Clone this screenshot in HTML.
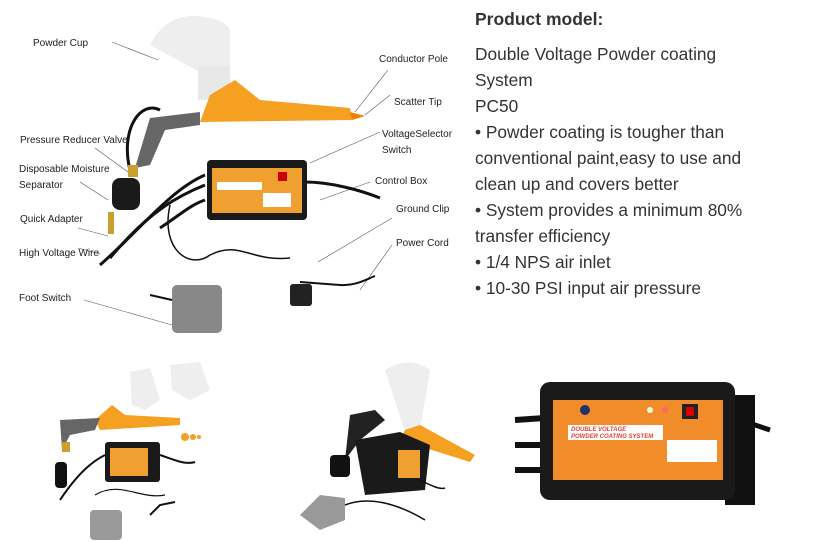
<!DOCTYPE html>
<html><head><meta charset="utf-8"><style>
body{margin:0;width:838px;height:542px;background:#fff;position:relative;overflow:hidden;font-family:"Liberation Sans",sans-serif}
.t{position:absolute;left:475px;color:#333;font-size:17.3px;line-height:26px;white-space:nowrap}
.l{position:absolute;font-size:10px;color:#222;white-space:nowrap}
svg{position:absolute;left:0;top:0}
</style></head><body>
<svg width="838" height="542">
<g stroke="#555" stroke-width="0.6" fill="none">
<line x1="112" y1="42" x2="158" y2="60"/>
<line x1="388" y1="70" x2="355" y2="112"/>
<line x1="390" y1="95" x2="365" y2="115"/>
<line x1="380" y1="132" x2="310" y2="163"/>
<line x1="370" y1="182" x2="320" y2="200"/>
<line x1="392" y1="218" x2="318" y2="262"/>
<line x1="392" y1="245" x2="360" y2="290"/>
<line x1="95" y1="148" x2="128" y2="172"/>
<line x1="80" y1="182" x2="108" y2="200"/>
<line x1="78" y1="228" x2="108" y2="236"/>
<line x1="78" y1="248" x2="100" y2="254"/>
<line x1="84" y1="300" x2="172" y2="325"/>
</g>
<g stroke="#111" stroke-width="3" fill="none">
<path d="M100 265 C140 230 170 190 205 175"/>
<path d="M110 258 C150 210 180 195 205 185"/>
<path d="M160 228 C180 215 190 205 205 200"/>
<path d="M305 182 C330 182 360 190 380 198"/>
<path d="M160 110 C140 100 120 130 130 170"/>
</g>
<path d="M170 205 C160 250 190 270 210 255 C240 240 250 262 290 258" stroke="#111" stroke-width="1.5" fill="none"/>
<path d="M300 282 L340 285 C355 286 365 280 375 276" stroke="#111" stroke-width="2" fill="none"/>
<rect x="290" y="284" width="22" height="22" rx="3" fill="#222"/>
<!-- cup -->
<path d="M150 45 Q165 15 195 16 Q225 18 230 30 L230 68 L200 72 Z" fill="#eee"/>
<rect x="198" y="66" width="32" height="34" fill="#e8e8e8"/>
<path d="M210 95 L235 80 L260 100 L350 108 L352 120 L200 122 Z" fill="#f5a020"/>
<path d="M350 112 L365 116 L352 120 Z" fill="#f08000"/>
<path d="M150 118 L200 112 L200 125 L165 130 L150 165 L135 168 Z" fill="#666"/>
<rect x="128" y="165" width="10" height="12" fill="#c9a030"/>
<rect x="112" y="178" width="28" height="32" rx="8" fill="#1a1a1a"/>
<rect x="108" y="212" width="6" height="22" fill="#c9a030"/>
<rect x="207" y="160" width="100" height="60" rx="4" fill="#1a1a1a"/>
<rect x="212" y="168" width="90" height="45" fill="#f0a030"/>
<rect x="217" y="182" width="45" height="8" fill="#fff"/>
<rect x="278" y="172" width="9" height="9" fill="#c00"/>
<rect x="263" y="193" width="28" height="14" fill="#fff"/>
<rect x="172" y="285" width="50" height="48" rx="5" fill="#888"/>
<line x1="150" y1="295" x2="172" y2="300" stroke="#111" stroke-width="2"/>

<path d="M130 372 L150 368 L160 400 L145 410 L132 405 Z" fill="#eee"/>
<path d="M170 365 L200 362 L210 390 L190 400 L172 390 Z" fill="#eee"/>
<path d="M95 420 L112 405 L125 415 L180 418 L180 425 L100 430 Z" fill="#f5a020"/>
<circle cx="185" cy="437" r="4" fill="#f5a020"/><circle cx="193" cy="437" r="3" fill="#f5a020"/><circle cx="199" cy="437" r="2" fill="#f5a020"/>
<path d="M60 420 L100 418 L95 430 L70 435 L62 450 Z" fill="#666"/>
<rect x="62" y="442" width="8" height="10" fill="#c9a030"/>
<rect x="55" y="462" width="12" height="26" rx="4" fill="#111"/>
<rect x="105" y="442" width="55" height="40" rx="3" fill="#1a1a1a"/>
<rect x="110" y="448" width="38" height="28" fill="#f0a030"/>
<path d="M60 500 C80 470 95 460 105 455 M160 455 C175 460 185 465 195 462" stroke="#111" stroke-width="2" fill="none"/>
<path d="M95 495 C120 480 140 500 165 495" stroke="#111" stroke-width="1.2" fill="none"/>
<rect x="90" y="510" width="32" height="30" rx="4" fill="#999"/>
<path d="M150 515 L160 505 L175 502" stroke="#111" stroke-width="2" fill="none"/>
<path d="M385 370 Q410 355 430 370 L420 430 L405 432 Z" fill="#eee"/>
<path d="M405 430 L420 425 L475 455 L470 462 L400 440 Z" fill="#f5a020"/>
<path d="M350 415 L375 410 L385 420 L360 440 L345 460 Z" fill="#222"/>
<rect x="330" y="455" width="20" height="22" rx="4" fill="#111"/>
<path d="M355 440 L400 432 L430 445 L425 490 L365 495 Z" fill="#1a1a1a"/>
<rect x="398" y="450" width="22" height="28" fill="#f0a030"/>
<path d="M300 515 L320 495 L345 498 L345 520 L320 530 Z" fill="#999"/>
<path d="M345 505 C370 495 400 505 425 520 M420 480 C430 485 440 490 445 488" stroke="#111" stroke-width="1.5" fill="none"/>
<path d="M515 420 L545 418 M515 445 L545 445 M515 470 L545 470" stroke="#111" stroke-width="6"/>
<rect x="725" y="395" width="30" height="110" fill="#111"/>
<path d="M740 420 L770 430" stroke="#111" stroke-width="5"/>
<rect x="540" y="382" width="195" height="118" rx="10" fill="#1a1a1a"/>
<rect x="553" y="400" width="170" height="80" fill="#f08c2a"/>
<rect x="568" y="425" width="95" height="15" fill="#fff"/>
<text x="571" y="431" font-size="6" font-style="italic" font-weight="bold" fill="#d43">DOUBLE VOLTAGE</text>
<text x="571" y="438" font-size="6" font-style="italic" font-weight="bold" fill="#d43">POWDER COATING SYSTEM</text>
<rect x="667" y="440" width="50" height="22" fill="#fff"/>
<rect x="682" y="404" width="16" height="15" fill="#222"/>
<rect x="686" y="407" width="8" height="9" fill="#d00"/>
<circle cx="650" cy="410" r="3" fill="#dfd"/><circle cx="665" cy="410" r="3" fill="#f66"/>
<circle cx="585" cy="410" r="5" fill="#236"/>
</svg>

<div class="l" style="left:33px;top:38px">Powder Cup</div>
<div class="l" style="left:379px;top:54px">Conductor Pole</div>
<div class="l" style="left:394px;top:97px">Scatter Tip</div>
<div class="l" style="left:20px;top:135px">Pressure Reducer Valve</div>
<div class="l" style="left:382px;top:129px">VoltageSelector</div>
<div class="l" style="left:382px;top:145px">Switch</div>
<div class="l" style="left:19px;top:164px">Disposable Moisture</div>
<div class="l" style="left:19px;top:180px">Separator</div>
<div class="l" style="left:375px;top:176px">Control Box</div>
<div class="l" style="left:396px;top:204px">Ground Clip</div>
<div class="l" style="left:20px;top:214px">Quick Adapter</div>
<div class="l" style="left:396px;top:238px">Power Cord</div>
<div class="l" style="left:19px;top:248px">High Voltage Wire</div>
<div class="l" style="left:19px;top:293px">Foot Switch</div>

<div class="t" style="top:6px;font-weight:bold;font-size:17.5px">Product model:</div>
<div class="t" style="top:41px">Double Voltage Powder coating<br>System<br>PC50<br>• Powder coating is tougher than<br>conventional paint,easy to use and<br>clean up and covers better<br>• System provides a minimum 80%<br>transfer efficiency<br>• 1/4 NPS air inlet<br>• 10-30 PSI input air pressure</div>
</body></html>
